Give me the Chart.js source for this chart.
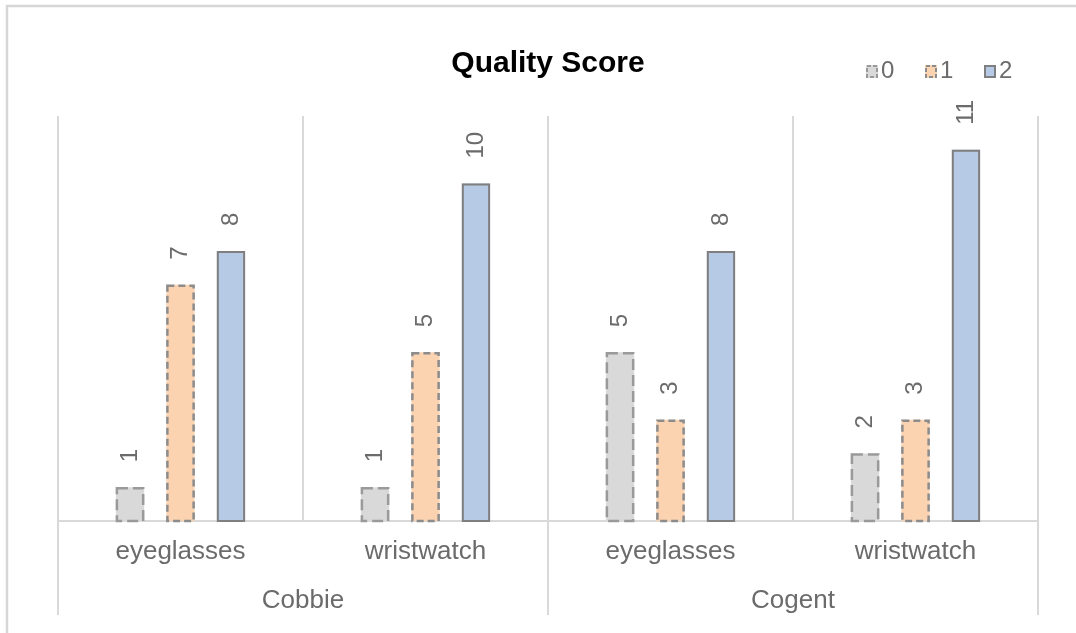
<!DOCTYPE html>
<html>
<head>
<meta charset="utf-8">
<title>Quality Score</title>
<script src="https://cdn.jsdelivr.net/npm/chart.js@4.4.1/dist/chart.umd.min.js"></script>
<style>
  html, body { margin: 0; padding: 0; background: #ffffff; overflow: hidden; }
  #wrap { position: relative; width: 1076px; height: 633px; }
</style>
</head>
<body>
<div id="wrap"><canvas id="chart"></canvas></div>
<script>
// Categories (product) and their brand groups
const categories = ['eyeglasses', 'wristwatch', 'eyeglasses', 'wristwatch'];
const groups = ['Cobbie', 'Cogent'];
const groupSize = 2;

// Counts per quality score
const seriesNames = ['0', '1', '2'];
const score0 = [1, 1, 5, 2];
const score1 = [7, 5, 3, 3];
const score2 = [8, 10, 8, 11];

const FONT = "'Liberation Sans', Arial, Helvetica, sans-serif";
const TEXT_GREY = '#6b6b6b';
const LINE_GREY = '#d9d9d9';

const styles = [
  { fill: '#d9d9d9', stroke: '#9a9a9a', dash: [11, 5] },
  { fill: '#fbd3b0', stroke: '#8c8c8c', dash: [7, 4] },
  { fill: '#b7cae5', stroke: '#7f7f7f', dash: [] }
];

const seriesData = [score0, score1, score2];

// White background plus the frame lines of the chart container
const framePlugin = {
  id: 'frame',
  beforeDraw(chart) {
    const ctx = chart.ctx;
    ctx.save();
    ctx.fillStyle = '#ffffff';
    ctx.fillRect(0, 0, chart.width, chart.height);
    ctx.strokeStyle = '#d6d6d6';
    ctx.lineWidth = 2.5;
    ctx.beginPath();
    ctx.moveTo(7, chart.height);
    ctx.lineTo(7, 6);
    ctx.lineTo(chart.width, 6);
    ctx.stroke();
    ctx.restore();
  }
};

// Category separators, baseline, category labels and group labels
const axisPlugin = {
  id: 'groupAxis',
  beforeDatasetsDraw(chart) {
    const ctx = chart.ctx;
    const x = chart.scales.x;
    const area = chart.chartArea;
    const n = categories.length;
    const step = (x.getPixelForValue(1) - x.getPixelForValue(0));
    ctx.save();
    ctx.strokeStyle = LINE_GREY;
    ctx.lineWidth = 2;
    for (let i = 0; i <= n; i++) {
      const px = Math.round(x.getPixelForValue(0) - step / 2 + i * step);
      const isGroupEdge = i % groupSize === 0;
      ctx.beginPath();
      ctx.moveTo(px, area.top);
      ctx.lineTo(px, isGroupEdge ? area.bottom + 94 : area.bottom);
      ctx.stroke();
    }
    ctx.beginPath();
    ctx.moveTo(area.left, area.bottom);
    ctx.lineTo(area.right, area.bottom);
    ctx.stroke();

    ctx.fillStyle = TEXT_GREY;
    ctx.font = '26px ' + FONT;
    ctx.textAlign = 'center';
    ctx.textBaseline = 'middle';
    categories.forEach((c, i) => {
      ctx.fillText(c, x.getPixelForValue(i), area.bottom + 31);
    });
    groups.forEach((g, gi) => {
      const first = x.getPixelForValue(gi * groupSize);
      const last = x.getPixelForValue(gi * groupSize + groupSize - 1);
      ctx.fillText(g, (first + last) / 2, area.bottom + 80);
    });
    ctx.restore();
  }
};

// Bar outlines (dashed for scores 0 and 1) and rotated value labels
const barDecorPlugin = {
  id: 'barDecor',
  afterDatasetsDraw(chart) {
    const ctx = chart.ctx;
    ctx.save();
    chart.data.datasets.forEach((ds, di) => {
      const meta = chart.getDatasetMeta(di);
      const st = styles[di];
      meta.data.forEach((bar, i) => {
        const p = bar.getProps(['x', 'y', 'base', 'width'], true);
        const left = p.x - p.width / 2;
        ctx.strokeStyle = st.stroke;
        ctx.lineWidth = di === 2 ? 2 : 2.5;
        ctx.setLineDash(st.dash);
        ctx.strokeRect(left + 1, p.y + 1, p.width - 2, p.base - p.y - 1);
        ctx.setLineDash([]);

        ctx.save();
        ctx.translate(p.x, p.y - 25);
        ctx.rotate(-Math.PI / 2);
        ctx.fillStyle = TEXT_GREY;
        ctx.font = '24px ' + FONT;
        ctx.textAlign = 'left';
        ctx.textBaseline = 'middle';
        ctx.fillText(String(ds.data[i]), 0, 0);
        ctx.restore();
      });
    });
    ctx.restore();
  }
};

// Legend in the top right corner
const legendPlugin = {
  id: 'cornerLegend',
  afterDraw(chart) {
    const ctx = chart.ctx;
    ctx.save();
    ctx.font = '24px ' + FONT;
    ctx.textBaseline = 'middle';
    ctx.textAlign = 'left';
    let lx = 866;
    const ly = 71;
    chart.data.datasets.forEach((ds, di) => {
      const st = styles[di];
      ctx.fillStyle = st.fill;
      ctx.fillRect(lx, ly - 6, 12, 13);
      ctx.strokeStyle = st.stroke;
      ctx.lineWidth = 2;
      ctx.setLineDash(st.dash.length ? [4, 2] : []);
      ctx.strokeRect(lx + 1, ly - 5, 10, 11);
      ctx.setLineDash([]);
      ctx.fillStyle = TEXT_GREY;
      ctx.fillText(ds.label, lx + 15, ly);
      lx += 59;
    });
    ctx.restore();
  }
};

new Chart(document.getElementById('chart'), {
  type: 'bar',
  data: {
    labels: categories,
    datasets: seriesNames.map((name, i) => ({
      label: name,
      data: seriesData[i],
      backgroundColor: styles[i].fill,
      borderWidth: 0,
      categoryPercentage: 0.618,
      barPercentage: 0.56
    }))
  },
  options: {
    responsive: true,
    maintainAspectRatio: false,
    animation: false,
    devicePixelRatio: 1,
    layout: { padding: { left: 58, right: 38, top: 0, bottom: 112 } },
    plugins: {
      legend: { display: false },
      tooltip: { enabled: false },
      title: {
        display: true,
        text: 'Quality Score',
        color: '#000000',
        font: { family: FONT, size: 30, weight: 'bold', lineHeight: 1.2 },
        padding: { top: 46, bottom: 34 }
      }
    },
    scales: {
      x: { display: false },
      y: { display: false, min: 0, max: 12 }
    }
  },
  plugins: [framePlugin, axisPlugin, barDecorPlugin, legendPlugin]
});
</script>
</body>
</html>
